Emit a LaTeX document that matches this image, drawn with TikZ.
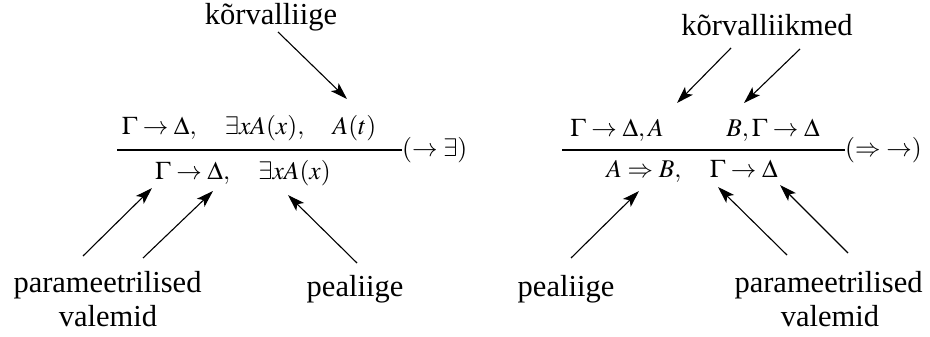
\documentclass[tikz,border=0pt]{standalone}
\usepackage{mathptmx}
\usepackage{fontspec}
\setmainfont{Liberation Serif}
\usetikzlibrary{arrows.meta}
\tikzset{
  lbl/.style={inner sep=0pt, anchor=base, font=\fontsize{30.5}{35}\selectfont},
  frm/.style={inner sep=0pt, anchor=base, font=\fontsize{25.5}{30}\selectfont},
  rulename/.style={inner sep=0pt, anchor=west, font=\fontsize{25.5}{30}\selectfont},
  infline/.style={line width=2.2pt},
  ptr/.style={line width=1.1pt, -{Stealth[length=17pt,width=11pt,inset=4pt]}}
}
\begin{document}
\begin{tikzpicture}[x=1pt,y=-1pt]
\useasboundingbox (0,0) rectangle (930,337);
% ---------- left rule ----------
\node[frm] (lp) at (249,135) {$\Gamma\to\Delta,\quad \exists xA(x),\quad A(t)$};
\node[frm] (lc) at (243,179) {$\Gamma\to\Delta,\quad \exists xA(x)$};
\coordinate (ll1) at (117,150);
\coordinate (ll2) at (402,150);
\draw[infline] (ll1) -- (ll2);
\node[rulename] (lr) at (ll2) {$(\to\exists)$};
\node[lbl] (lk) at (271,25) {kõrvalliige};
\node[lbl] (lpar) at (107.5,292) {parameetrilised};
\node[lbl] (lval) at (108,326) {valemid};
\node[lbl] (lpea) at (355,296) {pealiige};
\coordinate (t1) at (278,32);  \coordinate (h1) at (347,99);
\coordinate (t2) at (83,256);  \coordinate (h2) at (152,188);
\coordinate (t3) at (143,258); \coordinate (h3) at (213,191);
\coordinate (t4) at (357,263); \coordinate (h4) at (288,195);
\draw[ptr] (t1) -- (h1);
\draw[ptr] (t2) -- (h2);
\draw[ptr] (t3) -- (h3);
\draw[ptr] (t4) -- (h4);
% ---------- right rule ----------
\node[frm] (rp1) at (617,136) {$\Gamma\to\Delta,A$};
\node[frm] (rp2) at (773,136) {$B,\Gamma\to\Delta$};
\node[frm] (rc) at (692,177) {$A\Rightarrow B,\quad \Gamma\to\Delta$};
\coordinate (rl1) at (562,150);
\coordinate (rl2) at (845,150);
\draw[infline] (rl1) -- (rl2);
\node[rulename] (rr) at (rl2) {$(\Rightarrow\;\to)$};
\node[lbl] (rk) at (767,36) {kõrvalliikmed};
\node[lbl] (rpea) at (566,296) {pealiige};
\node[lbl] (rpar) at (828.5,292) {parameetrilised};
\node[lbl] (rval) at (830,326) {valemid};
\coordinate (t5) at (731,48);  \coordinate (h5) at (677,103);
\coordinate (t6) at (800,49);  \coordinate (h6) at (744,103);
\coordinate (t7) at (571,258); \coordinate (h7) at (639,191);
\coordinate (t8) at (787,255); \coordinate (h8) at (718,187);
\coordinate (t9) at (848,253); \coordinate (h9) at (780,185);
\draw[ptr] (t5) -- (h5);
\draw[ptr] (t6) -- (h6);
\draw[ptr] (t7) -- (h7);
\draw[ptr] (t8) -- (h8);
\draw[ptr] (t9) -- (h9);
\end{tikzpicture}
\end{document}
